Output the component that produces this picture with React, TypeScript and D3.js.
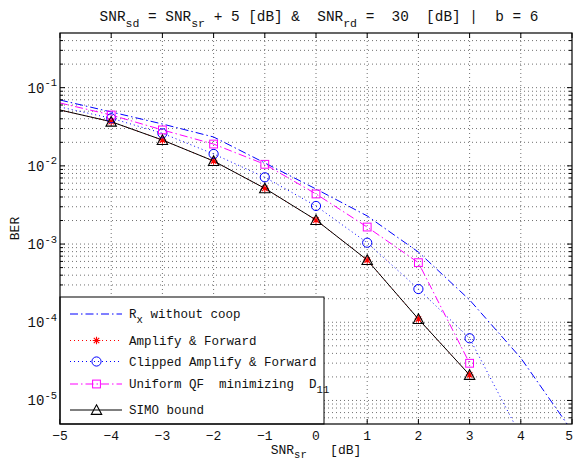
import React from "react";
import * as d3 from "d3";

// ---- data ----
const snrTicks = [-5, -4, -3, -2, -1, 0, 1, 2, 3, 4, 5];
const markerSnr = [-4, -3, -2, -1, 0, 1, 2, 3];

const snrRx = [-5, -4, -3, -2, -1, 0, 1, 2, 3, 4, 5];
const berRx = [0.0695, 0.0489, 0.0343, 0.0234, 0.0109, 0.00506, 0.00229, 7.9e-4, 1.93e-4, 3.49e-5, 4.07e-6];

const snrAF = [-5, -4, -3, -2, -1, 0, 1, 2, 3];
const berAF = [0.0518, 0.0367, 0.0214, 0.01153, 0.00516, 0.00203, 6.25e-4, 1.1e-4, 2.12e-5];

const snrClip = [-5, -4, -3, -2, -1, 0, 1, 2, 3, 4];
const berClip = [0.0566, 0.0406, 0.0261, 0.0142, 0.00714, 0.00307, 0.00104, 2.66e-4, 6.24e-5, 3.5e-6];

const snrQF = [-5, -4, -3, -2, -1, 0, 1, 2, 3];
const berQF = [0.0637, 0.0447, 0.0288, 0.019, 0.01047, 0.00437, 0.00165, 5.78e-4, 2.99e-5];

const snrSIMO = [-5, -4, -3, -2, -1, 0, 1, 2, 3];
const berSIMO = [0.0518, 0.0367, 0.0214, 0.01153, 0.00516, 0.00203, 6.25e-4, 1.1e-4, 2.12e-5];

const yDecades = [1e-5, 1e-4, 1e-3, 1e-2, 1e-1];
const yDecadeExp = ["-5", "-4", "-3", "-2", "-1"];

const W = 573;
const H = 461;
const L = 60, R = 572, T = 33, B = 424;
const FONT = "'Liberation Mono', 'DejaVu Sans Mono', monospace";
const FS = 12.5;
const FT = 14.4;

type Pt = [number, number];
const zip = (xs: number[], ys: number[]): Pt[] => xs.map((v, i) => [v, ys[i]] as Pt);

export default function App() {
  const x = d3.scaleLinear().domain([-5, 5]).range([L, R]);
  const y = d3.scaleLog().domain([5e-6, 0.5]).range([B, T]);
  const line = d3.line<Pt>().x((d) => x(d[0])).y((d) => y(d[1]));
  const minor = y.ticks().filter((v) => v > 5.0001e-6 && v < 0.49999);
  const isDecade = (v: number) => Math.abs(Math.log10(v) - Math.round(Math.log10(v))) < 1e-6;

  const series = [
    { key: "rx", data: zip(snrRx, berRx), color: "#0000ff", dash: "8 3 1.5 3", marker: "none" },
    { key: "af", data: zip(snrAF, berAF), color: "#ff0000", dash: "1 3", marker: "star" },
    { key: "clip", data: zip(snrClip, berClip), color: "#0000ff", dash: "1 3", marker: "circle" },
    { key: "qf", data: zip(snrQF, berQF), color: "#ff00ff", dash: "8 3 1.5 3", marker: "square" },
    { key: "simo", data: zip(snrSIMO, berSIMO), color: "#000000", dash: "", marker: "tri" },
  ];

  const drawMarker = (kind: string, cx: number, cy: number, color: string, k: string) => {
    if (kind === "circle")
      return <circle key={k} cx={cx} cy={cy} r={4.6} fill="none" stroke={color} strokeWidth={1} />;
    if (kind === "square")
      return <rect key={k} x={cx - 3.9} y={cy - 3.9} width={7.8} height={7.8} fill="none" stroke={color} strokeWidth={1} />;
    if (kind === "tri") {
      const s = 5.2;
      return (
        <path key={k} d={`M${cx},${cy - s}L${cx + s},${cy + s * 0.85}L${cx - s},${cy + s * 0.85}Z`} fill="none" stroke={color} strokeWidth={1.1} />
      );
    }
    if (kind === "star") {
      const s = 3.8, d = s * 0.72;
      return (
        <path key={k} d={`M${cx - s},${cy}L${cx + s},${cy}M${cx},${cy - s}L${cx},${cy + s}M${cx - d},${cy - d}L${cx + d},${cy + d}M${cx - d},${cy + d}L${cx + d},${cy - d}`} stroke={color} strokeWidth={1.1} fill="none" />
      );
    }
    return null;
  };

  const legendRows = [
    { s: series[0], y: 314, label: <><tspan>R</tspan><tspan dy={5} fontSize={FS * 0.85}>x</tspan><tspan dy={-5}> without coop</tspan></> },
    { s: series[1], y: 340.5, label: <tspan>Amplify &amp; Forward</tspan> },
    { s: series[2], y: 361.5, label: <tspan>Clipped Amplify &amp; Forward</tspan> },
    { s: series[3], y: 384, label: <><tspan>Uniform QF  minimizing  D</tspan><tspan dy={5} fontSize={FS * 0.85}>11</tspan></> },
    { s: series[4], y: 410, label: <tspan>SIMO bound</tspan> },
  ];

  return (
    <svg width={W} height={H} style={{ position: "absolute", left: 0, top: 0, background: "#fff" }} fontFamily={FONT} fontSize={FS}>
      <defs>
        <clipPath id="plotClip">
          <rect x={L} y={T} width={R - L} height={B - T} />
        </clipPath>
      </defs>
      <rect x={0} y={0} width={W} height={H} fill="#fff" />

      {/* grid */}
      <g stroke="#333" strokeWidth={0.7} strokeDasharray="1 3">
        {snrTicks.slice(1, -1).map((v) => (
          <line key={"gx" + v} x1={x(v)} x2={x(v)} y1={T} y2={B} />
        ))}
        {minor.map((v) => (
          <line key={"gy" + v} x1={L} x2={R} y1={y(v)} y2={y(v)} />
        ))}
      </g>

      {/* series lines */}
      <g clipPath="url(#plotClip)">
        {series.map((s) => (
          <path key={s.key} d={line(s.data) || ""} fill="none" stroke={s.color} strokeWidth={1} strokeDasharray={s.dash || undefined} />
        ))}
        {series.map((s) =>
          s.data
            .filter((d) => markerSnr.includes(d[0]))
            .map((d, i) => drawMarker(s.marker, x(d[0]), y(d[1]), s.color, s.key + i))
        )}
      </g>

      {/* ticks */}
      <g stroke="#000" strokeWidth={1}>
        {snrTicks.map((v) => (
          <g key={"tx" + v}>
            <line x1={x(v)} x2={x(v)} y1={B} y2={B - 5} />
            <line x1={x(v)} x2={x(v)} y1={T} y2={T + 5} />
          </g>
        ))}
        {minor.map((v) => {
          const len = isDecade(v) ? 5 : 3;
          return (
            <g key={"ty" + v}>
              <line x1={L} x2={L + len} y1={y(v)} y2={y(v)} />
              <line x1={R} x2={R - len} y1={y(v)} y2={y(v)} />
            </g>
          );
        })}
      </g>

      {/* legend */}
      <rect x={L} y={297} width={324 - L} height={B - 297} fill="#fff" stroke="#000" strokeWidth={1} />
      {legendRows.map((r) => (
        <g key={"lg" + r.s.key}>
          <line x1={70} x2={122} y1={r.y} y2={r.y} stroke={r.s.color} strokeWidth={1} strokeDasharray={r.s.dash || undefined} />
          {drawMarker(r.s.marker, 96.5, r.y, r.s.color, "lm" + r.s.key)}
          <text x={129} y={r.y + 4} fill="#111" xmlSpace="preserve">{r.label}</text>
        </g>
      ))}

      {/* axes box */}
      <rect x={L} y={T} width={R - L} height={B - T} fill="none" stroke="#000" strokeWidth={1.2} />

      {/* x tick labels */}
      {snrTicks.map((v, i) => (
        <text
          key={"lx" + v}
          x={i === snrTicks.length - 1 ? W : x(v)}
          y={440}
          textAnchor={i === snrTicks.length - 1 ? "end" : "middle"}
          fontSize={13}
          fill="#111"
        >
          {v < 0 ? "\u2212" + Math.abs(v) : String(v)}
        </text>
      ))}

      {/* y tick labels */}
      {yDecades.map((v, i) => (
        <text key={"ly" + v} x={57} y={y(v) + 5} textAnchor="end" fill="#111" fontSize={14}>
          <tspan>10</tspan>
          <tspan dy={-6.5} fontSize={10.5}>{yDecadeExp[i]}</tspan>
        </text>
      ))}

      {/* axis labels */}
      <text x={316} y={454} textAnchor="middle" fill="#111" xmlSpace="preserve" fontSize={13}>
        <tspan>SNR</tspan>
        <tspan dy={4} fontSize={10.5}>sr</tspan>
        <tspan dy={-4}>   [dB]</tspan>
      </text>
      <text transform={`translate(19, ${(T + B) / 2}) rotate(-90)`} textAnchor="middle" fill="#111" fontSize={13}>BER</text>

      {/* title */}
      <text x={(L + R) / 2 + 3} y={21} textAnchor="middle" fill="#111" xmlSpace="preserve" fontSize={FT}>
        <tspan>SNR</tspan>
        <tspan dy={6} fontSize={FT * 0.8}>sd</tspan>
        <tspan dy={-6}> = SNR</tspan>
        <tspan dy={6} fontSize={FT * 0.8}>sr</tspan>
        <tspan dy={-6}> + 5 [dB] &amp;  SNR</tspan>
        <tspan dy={6} fontSize={FT * 0.8}>rd</tspan>
        <tspan dy={-6}> =  30  [dB] |  b = 6</tspan>
      </text>
    </svg>
  );
}
